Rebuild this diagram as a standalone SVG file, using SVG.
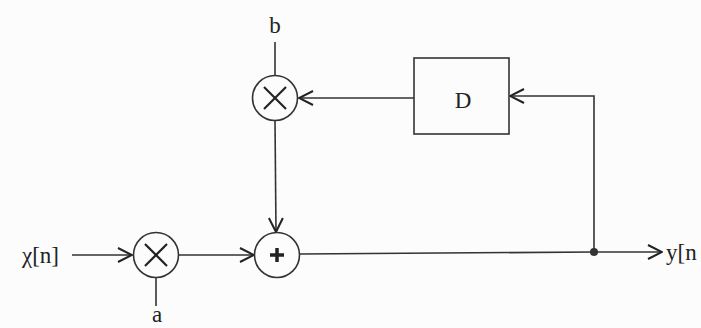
<svg xmlns="http://www.w3.org/2000/svg" width="701" height="328" viewBox="0 0 701 328">
<defs>
<marker id="arr" markerWidth="16" markerHeight="16" refX="15" refY="8" orient="auto" markerUnits="userSpaceOnUse">
<path d="M1,1 L15,8 L1,15" fill="none" stroke="#222" stroke-width="2"/>
</marker>
<style>
.ln{stroke:#333;stroke-width:1.6;fill:none}
.nd{stroke:#333;stroke-width:1.6;fill:none}
.x{stroke:#222;stroke-width:2.2}
.t{font-family:"Liberation Serif",serif;font-size:23px;fill:#222}
</style>
</defs>
<rect width="701" height="328" fill="#fcfcfc"/>
<g id="connectors">
<line class="ln" x1="72" y1="255" x2="132" y2="255" marker-end="url(#arr)"/>
<line class="ln" x1="179" y1="255" x2="254" y2="255" marker-end="url(#arr)"/>
<line class="ln" x1="156" y1="278" x2="156" y2="306"/>
<line class="ln" x1="275" y1="42" x2="275" y2="75"/>
<line class="ln" x1="275" y1="121" x2="276" y2="232" marker-end="url(#arr)"/>
<polyline class="ln" points="300,254 594,252 662,252" marker-end="url(#arr)"/>
<polyline class="ln" points="594,252 594,96 510,96" marker-end="url(#arr)"/>
<line class="ln" x1="414" y1="98" x2="299" y2="98" marker-end="url(#arr)"/>
<circle cx="594" cy="252" r="4" fill="#333"/>
</g>
<g id="mul_a">
<circle class="nd" cx="156" cy="255" r="22.5"/>
<line class="x" x1="145" y1="244" x2="167" y2="266"/>
<line class="x" x1="167" y1="244" x2="145" y2="266"/>
</g>
<g id="mul_b">
<circle class="nd" cx="275" cy="98" r="22.5"/>
<line class="x" x1="264" y1="87" x2="286" y2="109"/>
<line class="x" x1="286" y1="87" x2="264" y2="109"/>
</g>
<g id="adder">
<circle class="nd" cx="277" cy="255" r="22.5"/>
<line stroke="#222" stroke-width="3.5" x1="270" y1="255" x2="284" y2="255"/>
<line stroke="#222" stroke-width="3.5" x1="277" y1="248" x2="277" y2="262"/>
</g>
<g id="delay">
<rect class="nd" x="414" y="58" width="95" height="76"/>
<text class="t" x="463" y="108" text-anchor="middle">D</text>
</g>
<g id="labels">
<text class="t" x="22" y="263">χ[n]</text>
<text class="t" x="666" y="260">y[n</text>
<text class="t" x="275" y="33" text-anchor="middle">b</text>
<text class="t" x="157" y="322" text-anchor="middle">a</text>
</g>
</svg>
